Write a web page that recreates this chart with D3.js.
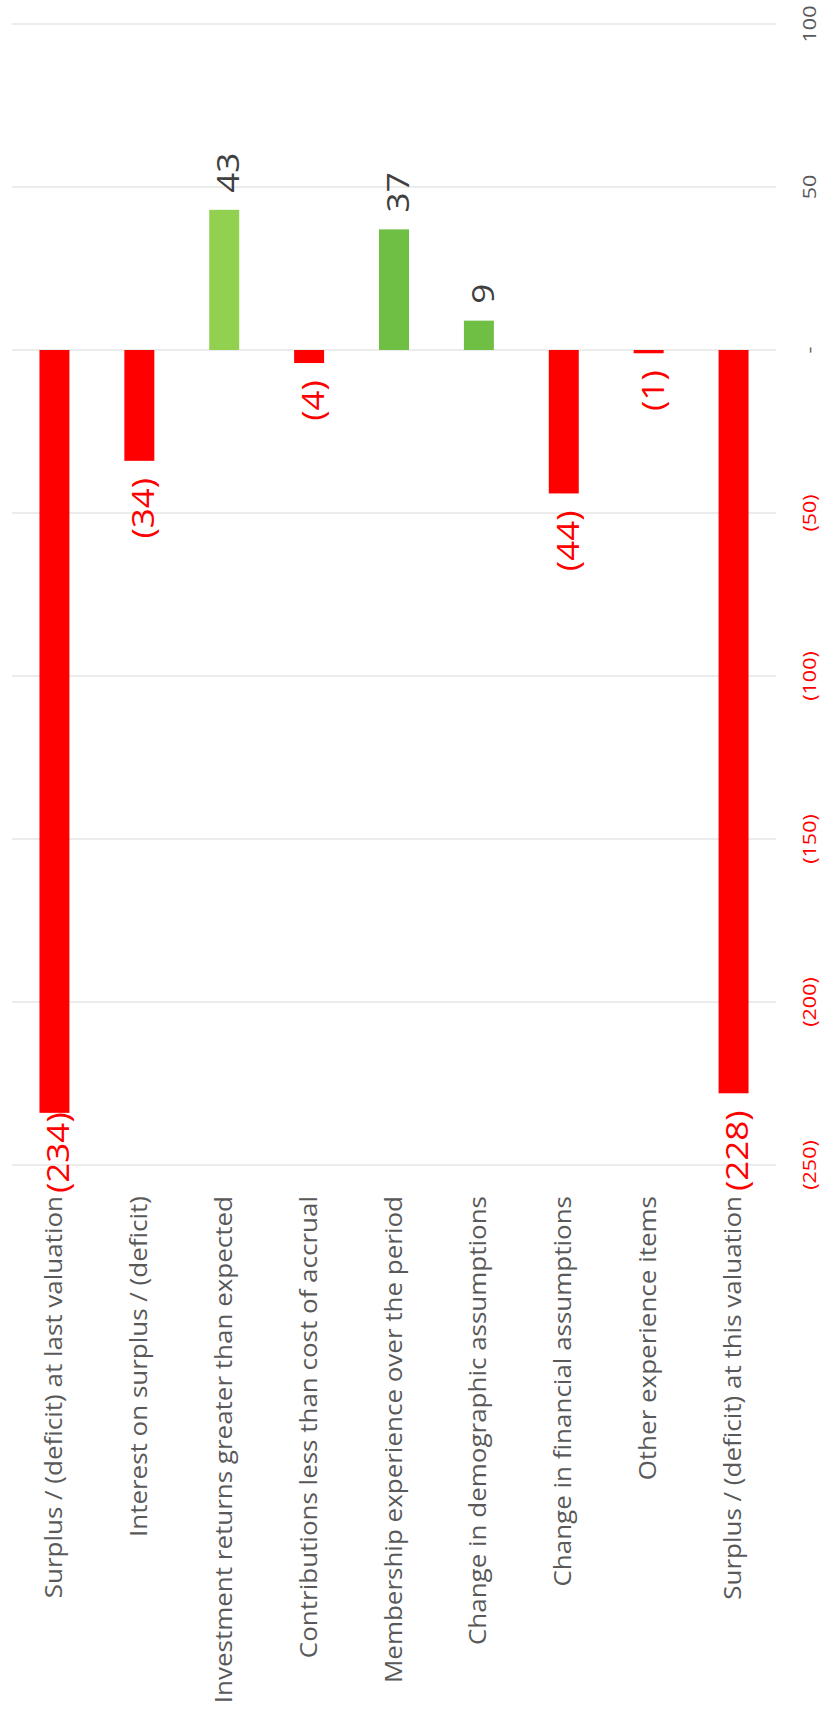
<!DOCTYPE html>
<html>
<head>
<meta charset="utf-8">
<script src="https://cdn.jsdelivr.net/npm/d3@7"></script>
<style>
  html, body { margin: 0; padding: 0; background: #fff; }
  svg { display: block; }
  text { font-family: "Open Sans", "Noto Sans", sans-serif; }
</style>
</head>
<body>
<div id="chart"></div>
<script>
// ---- data ----
const categories = [
  "Surplus / (deficit) at last valuation",
  "Interest on surplus / (deficit)",
  "Investment returns greater than expected",
  "Contributions less than cost of accrual",
  "Membership experience over the period",
  "Change in demographic assumptions",
  "Change in financial assumptions",
  "Other experience items",
  "Surplus / (deficit) at this valuation"
];
const values = [-234, -34, 43, -4, 37, 9, -44, -1, -228];
const barColors = ["#FF0000", "#FF0000", "#92D050", "#FF0000", "#6EBF44", "#6EBF44", "#FF0000", "#FF0000", "#FF0000"];
const tickValues = [100, 50, 0, -50, -100, -150, -200, -250];
const tickLabels = ["100", "50", "-", "(50)", "(100)", "(150)", "(200)", "(250)"];

// ---- layout ----
const W = 821, H = 1720;
const stretch = 1.13;           // text is drawn slightly elongated along its reading direction
const svg = d3.select("#chart").append("svg").attr("width", W).attr("height", H);

const y = d3.scaleLinear().domain([-250, 100]).range([1165, 24]);
const x = d3.scaleBand().domain(categories).range([12, 776]).paddingInner(0.647).paddingOuter(0.3235);
const cx = c => x(c) + x.bandwidth() / 2;

const fmt = v => v < 0 ? "(" + Math.abs(v) + ")" : String(v);

// gridlines
svg.append("g").selectAll("line").data(tickValues).join("line")
  .attr("x1", x.range()[0]).attr("x2", x.range()[1])
  .attr("y1", d => y(d)).attr("y2", d => y(d))
  .attr("stroke", "#D9D9D9").attr("stroke-width", 1.2);

// value axis tick labels (right side)
svg.append("g").selectAll("text").data(tickValues).join("text")
  .attr("transform", d => `translate(816,${y(d)}) rotate(-90) scale(${stretch},1)`)
  .attr("text-anchor", "middle")
  .attr("font-size", 19)
  .attr("fill", d => d < 0 ? "#FF0000" : "#595959")
  .text((d, i) => tickLabels[i]);

// bars
const data = categories.map((c, i) => ({ c, v: values[i], col: barColors[i] }));
svg.append("g").selectAll("rect").data(data).join("rect")
  .attr("x", d => x(d.c))
  .attr("width", x.bandwidth())
  .attr("y", d => y(Math.max(0, d.v)))
  .attr("height", d => Math.abs(y(d.v) - y(0)))
  .attr("fill", d => d.col);

// value labels
const gap = 17;
const labelLimit = y(-250) + 28;
const vl = svg.append("g").selectAll("text").data(data).join("text")
  .attr("font-size", 31)
  .attr("dy", "0.48em")
  .attr("fill", d => d.v < 0 ? "#FF0000" : "#404040")
  .attr("text-anchor", "start")
  .text(d => fmt(d.v));
vl.each(function (d) {
  const len = this.getComputedTextLength() * stretch;
  let startY;
  if (d.v >= 0) {
    startY = y(d.v) - gap;
  } else {
    startY = Math.min(y(d.v) + gap + len, labelLimit);
  }
  d3.select(this).attr("transform", `translate(${cx(d.c)},${startY}) rotate(-90) scale(${stretch},1)`);
});

// category labels
svg.append("g").selectAll("text").data(categories).join("text")
  .attr("transform", c => `translate(${cx(c)},${y(-250) + 31}) rotate(-90) scale(${stretch},1)`)
  .attr("text-anchor", "end")
  .attr("dy", "0.33em")
  .attr("font-size", 23)
  .attr("fill", "#595959")
  .text(c => c);
</script>
</body>
</html>
